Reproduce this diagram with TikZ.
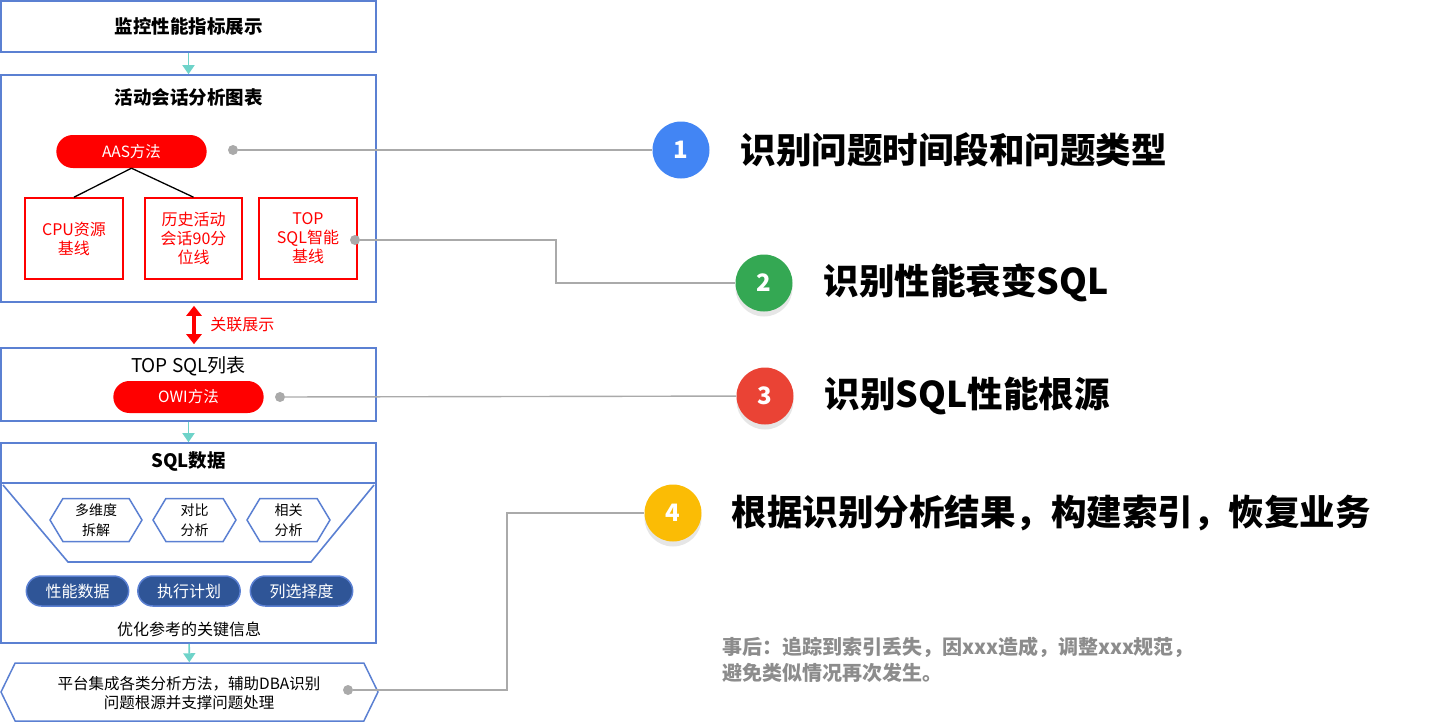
\documentclass[tikz,border=0pt]{standalone}
\usepackage{fontspec}
\setmainfont{Noto Sans CJK SC}
\usepackage{xcolor}
\usetikzlibrary{arrows.meta,positioning,shapes.misc,shapes.symbols,shadows}
\definecolor{frameblue}{HTML}{5B80D2}
\definecolor{flowteal}{HTML}{6ED3C9}
\definecolor{pillblue}{HTML}{2F5597}
\definecolor{linkgray}{HTML}{AAAAAA}
\definecolor{notegray}{HTML}{8C8C8C}
\definecolor{stepblue}{HTML}{4285F4}
\definecolor{stepgreen}{HTML}{34A853}
\definecolor{stepred}{HTML}{EA4335}
\definecolor{stepyellow}{HTML}{FBBC05}

\begin{document}
\begin{tikzpicture}[
  x=1pt, y=-1pt,
  frame/.style={draw=frameblue, line width=1.6pt, minimum width=375pt, inner sep=0pt},
  headline/.style={font=\bfseries\fontsize{18.5}{22}\selectfont},
  redpill/.style={rounded rectangle, fill=red, text=white, minimum width=157pt, minimum height=33pt, font=\fontsize{15.5}{18}\selectfont},
  redbox/.style={draw=red, line width=1.6pt, text=red, align=center, minimum width=98pt, minimum height=81pt, inner sep=0pt, font=\fontsize{16}{19}\selectfont},
  hexa/.style={signal, signal to=east and west, signal pointer angle=118, draw=frameblue, line width=1.5pt, fill=white, align=center, minimum width=88pt, minimum height=43pt, inner sep=0pt, font=\fontsize{14}{20}\selectfont},
  darkpill/.style={rounded rectangle, fill=pillblue, draw=frameblue, line width=1.5pt, text=white, minimum width=109pt, minimum height=30pt, font=\fontsize{16}{18}\selectfont},
  flow/.style={-{Triangle[length=9pt,width=12pt]}, draw=flowteal, line width=1.6pt},
  dot/.style={circle, fill=linkgray, inner sep=0pt, minimum size=10pt},
  link/.style={draw=linkgray, line width=1.4pt},
  stepcircle/.style={circle, minimum size=57pt, inner sep=0pt, text=white, font=\bfseries\fontsize{24}{26}\selectfont},
  steptext/.style={inner sep=0pt, font=\bfseries\fontsize{35.5}{40}\selectfont}
]
\useasboundingbox (0,0) rectangle (1440,723);

% left column
\node[frame, minimum height=51pt, headline] (monitor) at (188.5,26.5) {监控性能指标展示};
\node[frame, minimum height=227pt] (aasbox) at (188.5,188.5) {};
\node[headline] (aastitle) at (188.5,97) {活动会话分析图表};
\node[redpill] (aas) at (131.5,151.5) {AAS方法};
\node[redbox] (cpu) at (74,238.5) {CPU资源\\基线};
\node[redbox, minimum width=97pt] (hist) at (193.5,238.5) {历史活动\\会话90分\\位线};
\node[redbox] (topsql) at (308,238.5) {TOP\\SQL智能\\基线};
\draw[line width=1.3pt] (aas.south) -- (cpu.north);
\draw[line width=1.3pt] (aas.south) -- (hist.north);

\node[frame, minimum height=73pt] (sqllist) at (188.5,384.5) {};
\node[font=\fontsize{19}{22}\selectfont] (listtitle) at (188.5,366) {TOP SQL列表};
\node[redpill, minimum height=32pt] (owi) at (188.5,397) {OWI方法};
\draw[{Triangle[length=10pt,width=15pt]}-{Triangle[length=10pt,width=15pt]}, red, line width=4pt, shorten <=3pt, shorten >=3pt]
  ([xshift=5.5pt]aasbox.south) -- node[right=11pt, text=red, font=\fontsize{16}{18}\selectfont] {关联展示} ([xshift=5.5pt]sqllist.north);

\node[frame, minimum height=200pt] (sqldata) at (188.5,543) {};
\node[headline] (datatitle) at (188.5,462) {SQL数据};
\draw[draw=frameblue, line width=1.6pt] (1,483) -- (376,483);
\draw[draw=frameblue, line width=1.6pt] (3,485) -- (68,562) -- (311,562) -- (374,485);
\node[hexa, minimum width=92pt] (dims) at (96,520) {多维度\\拆解};
\node[hexa, minimum width=83pt] (compare) at (194.5,520) {对比\\分析};
\node[hexa, minimum width=83pt] (correl) at (288.5,520) {相关\\分析};
\node[darkpill] (perf) at (77.5,591) {性能数据};
\node[darkpill] (plan) at (189,591) {执行计划};
\node[darkpill] (selec) at (301.5,591) {列选择度};
\node[font=\fontsize{16}{18}\selectfont] (keyinfo) at (189,629) {优化参考的关键信息};

\node[signal, signal to=east and west, signal pointer angle=128, draw=frameblue, line width=1.5pt,
  minimum width=377pt, minimum height=58pt, inner sep=0pt] (platform) at (189.5,692) {};
\node[align=center, font=\fontsize{15.5}{19}\selectfont] (platformtext) at (189,693) {平台集成各类分析方法，辅助DBA识别\\问题根源并支撑问题处理};

\draw[flow] (monitor) -- (aasbox);
\draw[flow] (sqllist) -- (sqldata);
\draw[flow] (sqldata) -- (platform);

% right column
\node[stepcircle, fill=stepblue] (c1) at (681,150) {1};
\node[stepcircle, fill=stepgreen, drop shadow={opacity=0.2, shadow xshift=0pt, shadow yshift=-5pt}] (c2) at (764,283) {2};
\node[stepcircle, fill=stepred, drop shadow={opacity=0.2, shadow xshift=0pt, shadow yshift=-5pt}] (c3) at (765,396) {3};
\node[stepcircle, fill=stepyellow, drop shadow={opacity=0.2, shadow xshift=0pt, shadow yshift=-5pt}] (c4) at (673,513) {4};
\node[steptext, right=31pt of c1] (t1) {识别问题时间段和问题类型};
\node[steptext, right=31pt of c2] (t2) {识别性能衰变SQL};
\node[steptext, right=31pt of c3] (t3) {识别SQL性能根源};
\node[steptext, right=30pt of c4] (t4) {根据识别分析结果，构建索引，恢复业务};
\node[anchor=west, align=left, inner sep=0pt, text=notegray, font=\bfseries\fontsize{20}{26}\selectfont] (note) at (722,660)
  {事后：追踪到索引丢失，因xxx造成，调整xxx规范，\\避免类似情况再次发生。};

% links
\node[dot] (d1) at (233,150) {};
\node[dot] (d2) at (355,240) {};
\node[dot] (d3) at (280,397) {};
\node[dot] (d4) at (348,690) {};
\coordinate (k2) at (556,283);
\coordinate (k4) at (507,513);
\draw[link] (d1) -- (c1);
\draw[link] (d2) -| (k2) -- (c2);
\draw[link] (d3) -- (c3);
\draw[link] (d4) -| (k4) -- (c4);
\end{tikzpicture}
\end{document}
